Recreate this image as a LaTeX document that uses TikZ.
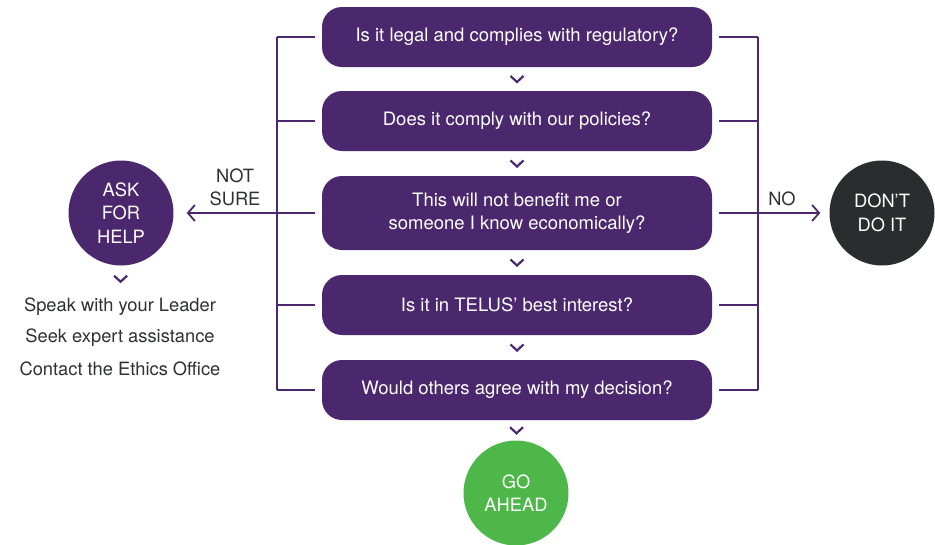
\documentclass[tikz,border=0pt]{standalone}
\usepackage{fontspec}
\setmainfont{TeX Gyre Heros}
\usetikzlibrary{arrows.meta, positioning, calc}
\definecolor{telus}{HTML}{4B286D}
\definecolor{goahead}{HTML}{4DB849}
\definecolor{stop}{HTML}{2A2C2E}
\definecolor{ink}{HTML}{2F3033}
\tikzset{
  question/.style={rounded corners=20pt, fill=telus, minimum width=390pt, minimum height=60pt,
    text=white, align=center, font=\fontsize{18.5}{23}\selectfont},
  outcome/.style={circle, minimum size=105pt, text=white, align=center, inner sep=0pt,
    font=\fontsize{18.3}{23.5}\selectfont},
  link/.style={draw=telus, line width=1.8pt},
  chev/.style={draw=telus, line width=2.2pt},
  hint/.style={text=ink, align=center, font=\fontsize{18.3}{23}\selectfont},
}
\newcommand{\chevron}[1]{\draw[chev] (#1) ++(-6.5,-3) -- ++(6.5,6) -- ++(6.5,-6);}

\begin{document}
\begin{tikzpicture}[x=1pt, y=-1pt]
\useasboundingbox (0,0) rectangle (935,544);
\node[question] (q1) at (517, 37) {Is it legal and complies with regulatory?};
\node[question] (q2) at (517, 121) {Does it comply with our policies?};
\node[question, minimum height=74pt] (q3) at (517, 213) {This will not benefit me or\\someone I know economically?};
\node[question] (q4) at (517, 305) {Is it in TELUS’ best interest?};
\node[question] (q5) at (517, 390) {Would others agree with my decision?};
\node[outcome, fill=telus] (ask) at (121, 213) {ASK\\FOR\\HELP};
\node[outcome, fill=stop] (dont) at (882, 213) {DON’T\\DO IT};
\node[outcome, fill=goahead] (go) at (516, 493) {GO\\AHEAD};
\node[hint] (leader) at (120, 307) {Speak with your Leader};
\node[hint] (expert) at (120, 338) {Seek expert assistance};
\node[hint] (ethics) at (120, 369) {Contact the Ethics Office};
\node[hint] (notsure) at (235, 187) {NOT\\SURE};
\node[hint] (no) at (782, 199) {NO};
\coordinate (lbar) at (277, 37);
\coordinate (rbar) at (758, 37);
% brackets on both sides
\draw[link] (lbar) -- (lbar |- q5);
\draw[link] (rbar) -- (rbar |- q5);
\foreach \q in {q1, q2, q3, q4, q5} {
  \draw[link] ([xshift=-7pt]\q.west) -- (\q.west -| lbar);
  \draw[link] ([xshift=7pt]\q.east) -- (\q.east -| rbar);
}
\draw[link, -{Straight Barb[length=7pt, width=16pt, line width=1.8pt]}, shorten >=13pt] (lbar |- q3) -- (ask);
\draw[link, -{Straight Barb[length=7pt, width=16pt, line width=1.8pt]}, shorten >=9pt] (rbar |- q3) -- (dont);
% chevrons
\chevron{$(q1.south)!.5!(q2.north)$}
\chevron{$(q2.south)!.5!(q3.north)$}
\chevron{$(q3.south)!.5!(q4.north)$}
\chevron{$(q4.south)!.5!(q5.north)$}
\chevron{$(q5.south)!.5!(go.north)$}
\chevron{$(ask.south)!.45!(leader.north)$}
\end{tikzpicture}
\end{document}
